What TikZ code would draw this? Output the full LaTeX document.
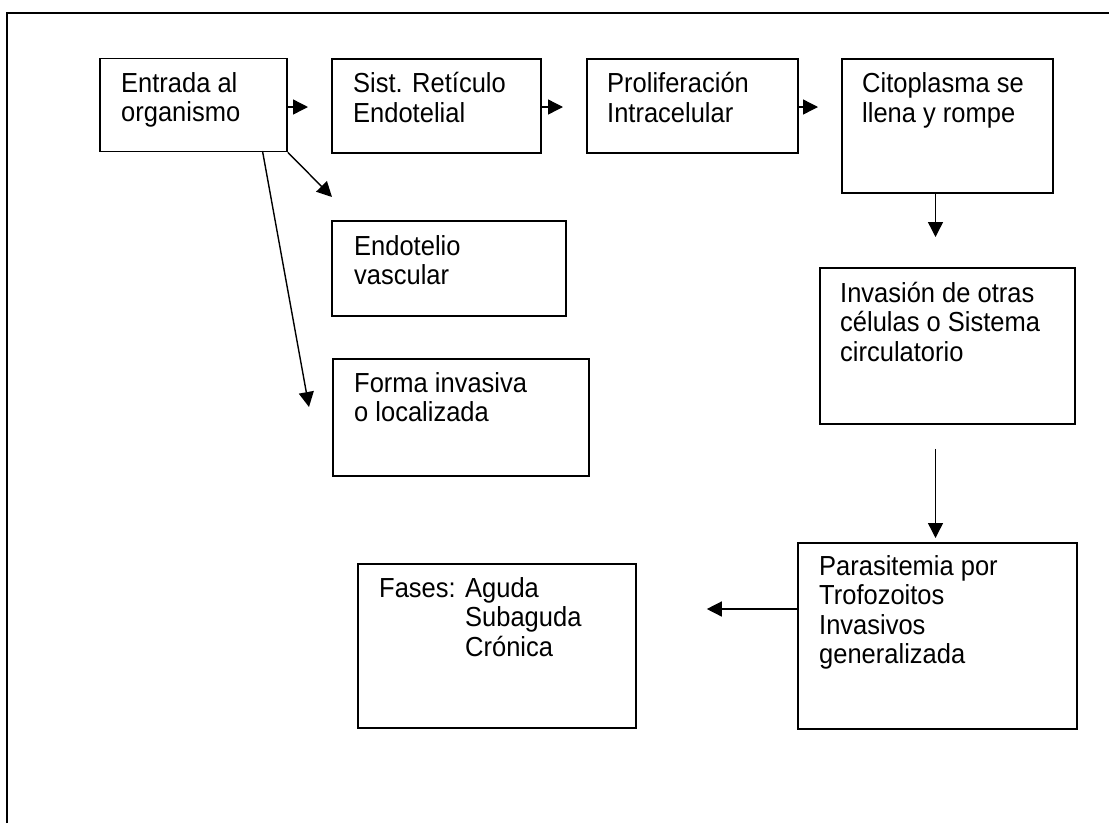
\documentclass[tikz,border=0pt]{standalone}
\usepackage{fontspec}
\usepackage{graphicx}
\setmainfont{Liberation Sans}
\usetikzlibrary{arrows.meta,calc}
\newcommand{\boxtext}[1]{\scalebox{1}[1.08]{\parbox[t]{320pt}{\raggedright\fontsize{25.5}{27.4}\selectfont #1}}}
\begin{document}
\begin{tikzpicture}[x=1pt,y=1pt,
  box/.style={draw,line width=1.8pt,rectangle,anchor=north west,inner sep=0pt},
  txt/.style={anchor=base west,inner sep=0pt},
  arr/.style={line width=1.4pt,-{Triangle[length=15pt,width=15pt]}}]
\useasboundingbox (0,0) rectangle (1109,-823);
\draw[line width=1.6pt] (7,-823) -- (7,-13) -- (1109,-13);
% boxes
\node[box,minimum width=187pt,minimum height=93pt] (b1) at (99,-57.5) {};
\node[box,minimum width=209pt,minimum height=94pt] (b2) at (331,-58) {};
\node[box,minimum width=211pt,minimum height=94pt] (b3) at (586,-58) {};
\node[box,minimum width=211pt,minimum height=134pt] (b4) at (841,-58) {};
\node[box,minimum width=255pt,minimum height=156pt] (b5) at (819,-267) {};
\node[box,minimum width=279pt,minimum height=186pt] (b6) at (797,-542) {};
\node[box,minimum width=278pt,minimum height=164pt] (b7) at (357,-563) {};
\node[box,minimum width=234pt,minimum height=95pt] (b8) at (331,-220) {};
\node[box,minimum width=256pt,minimum height=117pt] (b9) at (332,-358) {};
% texts
\node[txt] (t1) at ($(b1.north west)+(22,-34.5)$) {\boxtext{Entrada al\\organismo}};
\node[txt] (t2) at ($(b2.north west)+(22,-34.5)$) {\boxtext{Sist. Retículo\\Endotelial}};
\node[txt] (t3) at ($(b3.north west)+(21,-34.5)$) {\boxtext{Proliferación\\Intracelular}};
\node[txt] (t4) at ($(b4.north west)+(21,-34.5)$) {\boxtext{Citoplasma se\\llena y rompe}};
\node[txt] (t5) at ($(b5.north west)+(21,-35)$) {\boxtext{Invasión de otras\\células o Sistema\\circulatorio}};
\node[txt] (t6) at ($(b6.north west)+(22,-33)$) {\boxtext{Parasitemia por\\Trofozoitos\\Invasivos\\generalizada}};
\node[txt] (t7) at ($(b7.north west)+(22,-34)$) {\boxtext{Fases: Aguda\\\phantom{Fases: }Subaguda\\\phantom{Fases: }Crónica}};
\node[txt] (t8) at ($(b8.north west)+(23,-35)$) {\boxtext{Endotelio\\vascular}};
\node[txt] (t9) at ($(b9.north west)+(22,-34)$) {\boxtext{Forma invasiva\\o localizada}};
% connectors
\coordinate (d1) at (332,-197);
\coordinate (s2) at (262.5,-151);
\coordinate (d2) at (309,-407);
\draw[arr,shorten >=23pt] (b1.east |- 0,-107) -- (b2.west |- 0,-107);
\draw[arr,shorten >=23pt] (b2.east |- 0,-107) -- (b3.west |- 0,-107);
\draw[arr,shorten >=23pt] (b3.east |- 0,-107) -- (b4.west |- 0,-107);
\draw[arr,shorten >=30pt] (b4.south -| 935.5,0) -- (b5.north -| 935.5,0);
\draw[arr,shorten <=24pt,shorten >=4pt] (b5.south -| 935.5,0) -- (b6.north -| 935.5,0);
\draw[arr,shorten >=70pt] (b6.west |- 0,-609) -- (b7.east |- 0,-609);
\draw[arr] (b1.south east) -- (d1);
\draw[arr] (s2) -- (d2);
\end{tikzpicture}
\end{document}
